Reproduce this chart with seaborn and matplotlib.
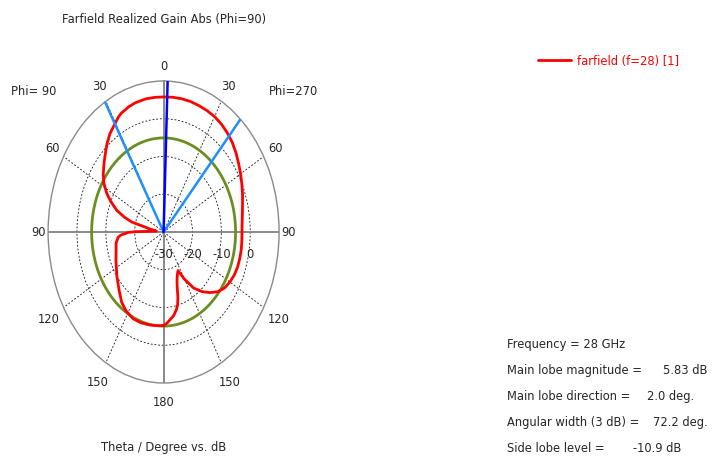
import numpy as np
import pandas as pd
import matplotlib
matplotlib.use("Agg")
import matplotlib.pyplot as plt
from matplotlib.transforms import offset_copy
import seaborn as sns

# realized gain (dB) vs theta (deg), Phi=270 cut -> right half of the plot
theta_270 = [0, 5, 10, 15, 20, 25, 30, 35, 40, 45, 50, 55, 60, 65, 70, 75, 80, 85,
             90, 95, 100, 105, 110, 115, 120, 125, 130, 135, 140, 145, 150, 154,
             157, 160, 162, 164, 166, 168, 171, 174, 177, 180]
gain_270 = [5.78, 5.83, 5.85, 5.8, 5.65, 5.5, 5.3, 4.9, 4.3, 3.6, 2.7, 1.7, 0.8, -0.1,
            -0.9, -1.7, -2.3, -2.7, -2.85, -2.8, -2.7, -2.7, -2.75, -3.0, -3.5, -4.2,
            -5.4, -7.3, -9.4, -11.9, -15.6, -18.6, -17.8, -16.4, -14.8, -12.0, -10.0,
            -8.9, -7.6, -6.8, -5.9, -5.2]

# Phi=90 cut -> left half of the plot
theta_90 = [0, 5, 10, 16, 20, 25, 27, 30, 35.5, 40, 44, 48, 53.5, 58, 62.5, 66, 70.5,
            74, 76.5, 78.5, 80.5, 84.5, 89.5, 90.5, 93, 95, 100, 108, 115, 125.5, 135,
            142, 148, 155.5, 162, 169, 175, 180]
gain_90 = [5.78, 5.8, 5.8, 5.6, 5.3, 4.7, 4.3, 3.4, 2.0, 0.5, -1.0, -2.3, -4.0, -5.6,
           -7.8, -9.9, -12.8, -16.0, -18.6, -23.4, -25.2, -27.5, -20.5, -17.8, -15.3,
           -14.2, -13.3, -12.7, -11.8, -10.1, -8.2, -6.4, -5.4, -4.7, -4.7, -4.9, -5.1,
           -5.2]

main_lobe_dir = 2.0
beam_edges = [-30.5, 41.7]        # 3 dB angular width markers
side_lobe_ref = 5.83 - 10.9       # side lobe level circle

theta_tick_angles = [0, 30, 60, 90, 120, 150, 180, -150, -120, -90, -60, -30]
theta_tick_labels = ["0", "30", "60", "90", "120", "150", "180",
                     "150", "120", "90", "60", "30"]
r_ticks = [-30, -20, -10, 0]
r_tick_labels = ["-30", "-20", "-10", "0"]

info_labels = ["Frequency = 28 GHz", "Main lobe magnitude =", "Main lobe direction =",
               "Angular width (3 dB) =", "Side lobe level ="]
info_values = ["", "5.83 dB", "2.0 deg.", "72.2 deg.", "-10.9 dB"]

sns.set_style("white")
plt.rcParams["font.family"] = ["DejaVu Sans"]

theta_all = [-t for t in theta_90[::-1]] + theta_270
gain_all = gain_90[::-1] + gain_270
df = pd.DataFrame({"theta": np.deg2rad(theta_all), "gain": gain_all})

W, H = 718, 460
fig = plt.figure(figsize=(W / 100, H / 100), dpi=100)
cx, cy, rx, ry = 163.6, 233, 115.5, 151
ax = fig.add_axes([(cx - rx) / W, (H - cy - ry) / H, 2 * rx / W, 2 * ry / H],
                  projection="polar")

circ = np.linspace(0, 2 * np.pi, 361)
for a in [0, 90, 180, 270]:
    ax.plot([np.deg2rad(a)] * 2, [-30, 10], color="#808080", lw=1.3, zorder=2)

# side lobe reference circle
ax.plot(circ, np.full_like(circ, side_lobe_ref), color="#6b8e23", lw=2.0, zorder=3)

sns.lineplot(data=df, x="theta", y="gain", sort=False, ax=ax, color="#ff0000",
             lw=2.0, label="farfield (f=28) [1]", zorder=4)
ax.set_xlabel("")
ax.set_ylabel("")

for a in beam_edges:
    ax.plot([np.deg2rad(a)] * 2, [-30, 10], color="#1e8fff", lw=1.8, zorder=5)
ax.plot([np.deg2rad(main_lobe_dir)] * 2, [-30, 10], color="#0000ff", lw=1.8, zorder=6)

ax.set_aspect("auto")
ax.set_theta_zero_location("N")
ax.set_theta_direction(-1)
ax.set_thetalim(0, 2 * np.pi)
ax.set_ylim(-30, 10)
ax.set_rorigin(-30)

# grid
ax.set_xticks(np.deg2rad([30, 60, 120, 150, 210, 240, 300, 330]))
ax.set_xticklabels([])
ax.set_yticks([-20, -10, 0])
ax.set_yticklabels([])
ax.tick_params(length=0)
ax.grid(True, color="#111111", linestyle=(0, (2.2, 2.2)), linewidth=0.6)
ax.spines["polar"].set_color("#8a8a8a")
ax.spines["polar"].set_linewidth(1.0)

fs = 8.3
label_r = {0: 14.2, 30: 14.7, 60: 14.6, 90: 13.3, 120: 15.9, 150: 15.7, 180: 14.8}
for a, lab in zip(theta_tick_angles, theta_tick_labels):
    ax.text(np.deg2rad(a), label_r[abs(a)], lab, ha="center", va="center",
            fontsize=fs, clip_on=False)
off = offset_copy(ax.transData, fig=fig, y=-21, units="dots")
for r, lab in zip(r_ticks, r_tick_labels):
    ax.text(np.pi / 2, r, lab, ha="center", va="center", fontsize=fs,
            transform=off, clip_on=False)

handles, labels = ax.get_legend_handles_labels()
ax.get_legend().remove()
fig.legend(handles, labels, loc="center left", bbox_to_anchor=(538 / W, 1 - 62 / H),
           frameon=False, borderpad=0, borderaxespad=0, handlelength=2.9,
           handletextpad=0.45, labelcolor="#ff0000", fontsize=fs)

fig.text(cx / W, 1 - 20 / H, "Farfield Realized Gain Abs (Phi=90)", ha="center",
         va="center", fontsize=fs)
fig.text(34 / W, 1 - 92 / H, "Phi= 90", ha="center", va="center", fontsize=fs)
fig.text(293 / W, 1 - 92 / H, "Phi=270", ha="center", va="center", fontsize=fs)
fig.text(cx / W, 1 - 448 / H, "Theta / Degree vs. dB", ha="center", va="center",
         fontsize=fs)

val_x = [None, 663, 647, 653, 633]
for i, (lab, val) in enumerate(zip(info_labels, info_values)):
    y = 1 - (345 + 25.8 * i) / H
    fig.text(507 / W, y, lab, ha="left", va="center", fontsize=fs)
    if val:
        fig.text(val_x[i] / W, y, val, ha="left", va="center", fontsize=fs)

fig.savefig("out.png", dpi=100, facecolor="white")
